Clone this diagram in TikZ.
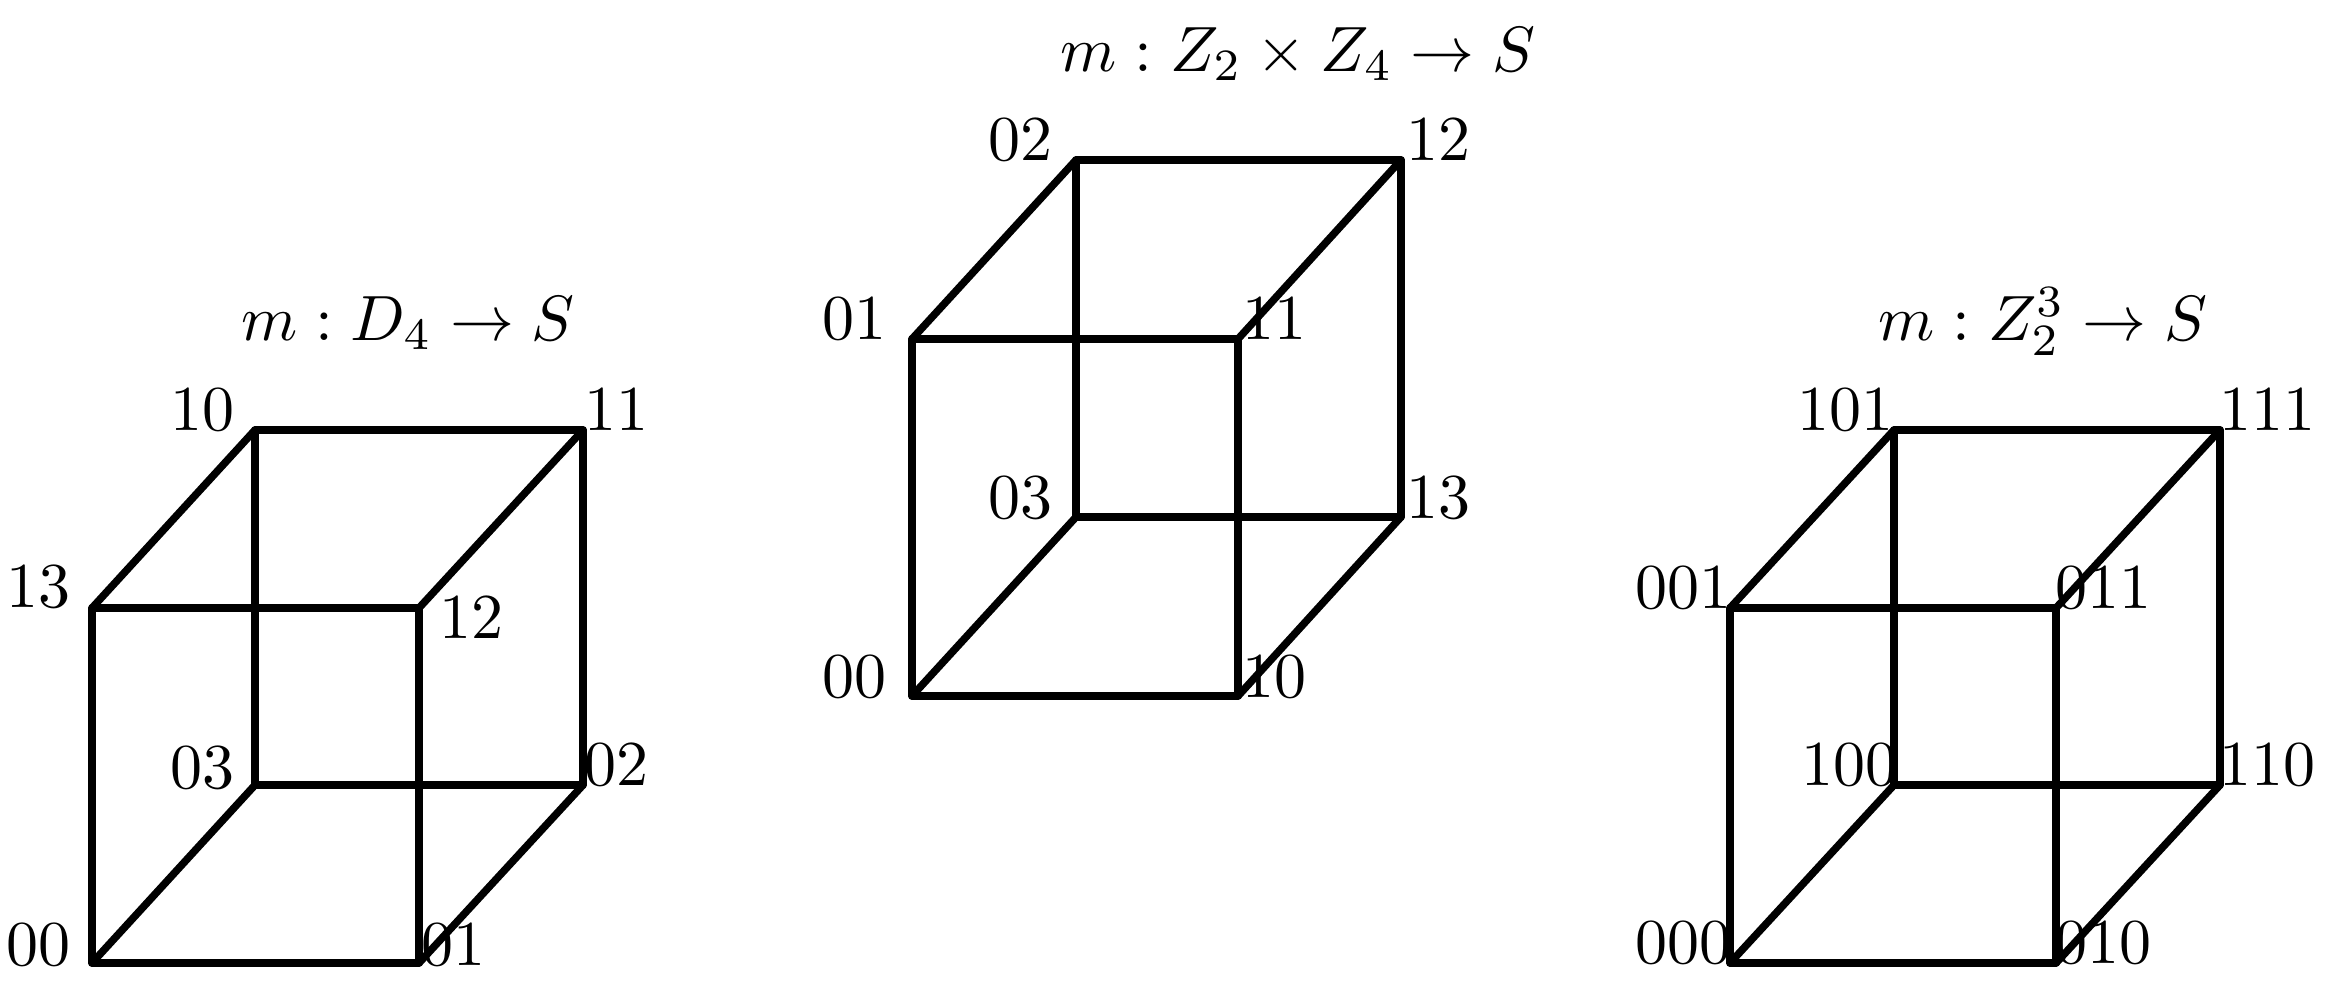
\documentclass[tikz,border=0pt]{standalone}
\begin{document}
\begin{tikzpicture}[x=1pt,y=-1pt,
  edge/.style={line width=7.5pt,line join=round,line cap=round},
  lbl/.style={inner sep=0pt,scale=6.4},
  lw/.style={lbl,anchor=base west},
  le/.style={lbl,anchor=base east},
  ttl/.style={lbl,anchor=base}]
\useasboundingbox[fill=white] (0,0) rectangle (2328,994);
% ---------- left cube ----------
\coordinate (La) at (92,963);   % 00
\coordinate (Lb) at (419,963);  % 01
\coordinate (Lc) at (92,608);   % 13
\coordinate (Ld) at (419,608);  % 12
\coordinate (Le) at (255,785);  % 03
\coordinate (Lf) at (583,785);  % 02
\coordinate (Lg) at (255,430);  % 10
\coordinate (Lh) at (583,430);  % 11
\draw[edge] (La) -- (Lb) -- (Ld) -- (Lc) -- cycle;
\draw[edge] (Le) -- (Lf) -- (Lh) -- (Lg) -- cycle;
\draw[edge] (La) -- (Le);
\draw[edge] (Lb) -- (Lf);
\draw[edge] (Lc) -- (Lg);
\draw[edge] (Ld) -- (Lh);
\node[le] (tLa) at (72,965) {00};
\node[lw] (tLb) at (420,965) {01};
\node[le] (tLc) at (72,607) {13};
\node[lw] (tLd) at (438,638) {12};
\node[le] (tLe) at (236,788) {03};
\node[lw] (tLf) at (583,785) {02};
\node[le] (tLg) at (236,430) {10};
\node[lw] (tLh) at (583,430) {11};
\node[ttl] (tL) at (408,340) {$m: D_4\to S$};
% ---------- middle cube ----------
\coordinate (Ma) at (912,696);   % 00
\coordinate (Mb) at (1238,696);  % 10
\coordinate (Mc) at (912,339);   % 01
\coordinate (Md) at (1238,339);  % 11
\coordinate (Me) at (1076,517);  % 03
\coordinate (Mf) at (1401,517);  % 13
\coordinate (Mg) at (1076,160);  % 02
\coordinate (Mh) at (1401,160);  % 12
\draw[edge] (Ma) -- (Mb) -- (Md) -- (Mc) -- cycle;
\draw[edge] (Me) -- (Mf) -- (Mh) -- (Mg) -- cycle;
\draw[edge] (Ma) -- (Me);
\draw[edge] (Mb) -- (Mf);
\draw[edge] (Mc) -- (Mg);
\draw[edge] (Md) -- (Mh);
\node[le] (tMa) at (888,697) {00};
\node[lw] (tMb) at (1241,697) {10};
\node[le] (tMc) at (888,339) {01};
\node[lw] (tMd) at (1241,339) {11};
\node[le] (tMe) at (1054,518) {03};
\node[lw] (tMf) at (1405,518) {13};
\node[le] (tMg) at (1054,160) {02};
\node[lw] (tMh) at (1405,160) {12};
\node[ttl] (tM) at (1298,71) {$m: Z_2\times Z_4\to S$};
% ---------- right cube ----------
\coordinate (Ra) at (1730,963);  % 000
\coordinate (Rb) at (2056,963);  % 010
\coordinate (Rc) at (1730,608);  % 001
\coordinate (Rd) at (2056,608);  % 011
\coordinate (Re) at (1894,785);  % 100
\coordinate (Rf) at (2220,785);  % 110
\coordinate (Rg) at (1894,430);  % 101
\coordinate (Rh) at (2220,430);  % 111
\draw[edge] (Ra) -- (Rb) -- (Rd) -- (Rc) -- cycle;
\draw[edge] (Re) -- (Rf) -- (Rh) -- (Rg) -- cycle;
\draw[edge] (Ra) -- (Re);
\draw[edge] (Rb) -- (Rf);
\draw[edge] (Rc) -- (Rg);
\draw[edge] (Rd) -- (Rh);
\node[le] (tRa) at (1733,963) {000};
\node[lw] (tRb) at (2054,963) {010};
\node[le] (tRc) at (1733,608) {001};
\node[lw] (tRd) at (2054,608) {011};
\node[le] (tRe) at (1899,785) {100};
\node[lw] (tRf) at (2218,785) {110};
\node[le] (tRg) at (1895,430) {101};
\node[lw] (tRh) at (2218,430) {111};
\node[ttl] (tR) at (2043,340) {$m: Z_2^3\to S$};
\end{tikzpicture}
\end{document}
